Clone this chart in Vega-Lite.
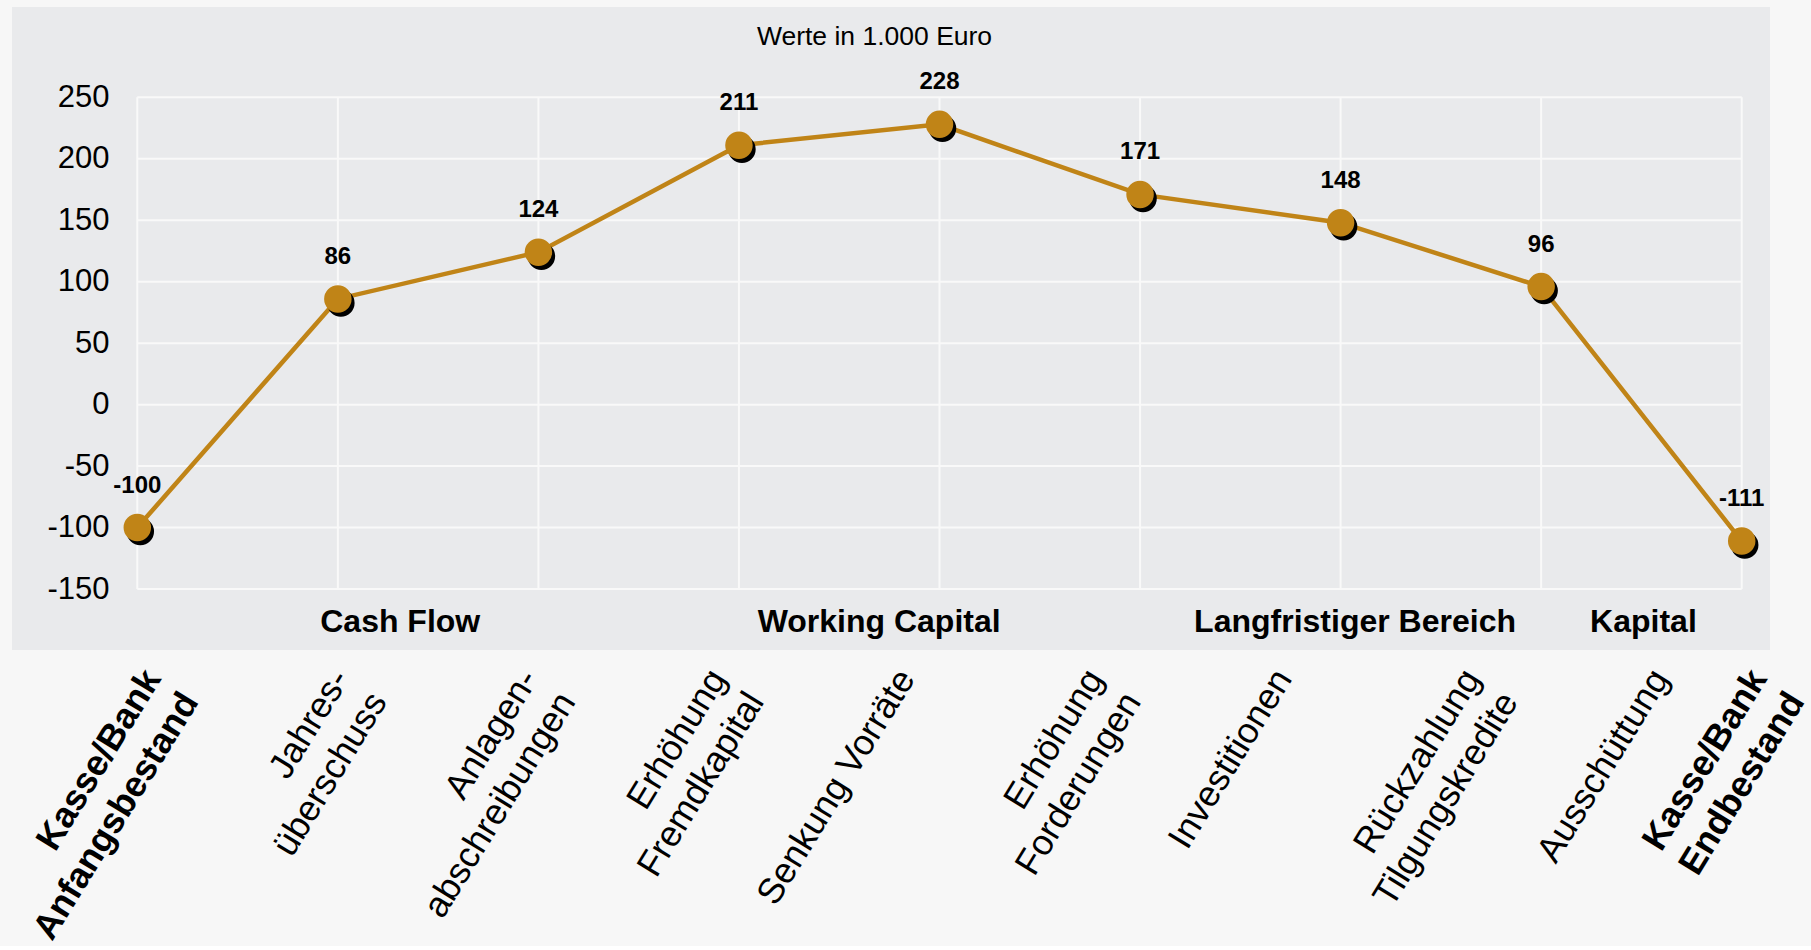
{
  "$schema": "https://vega.github.io/schema/vega-lite/v6.json",
  "background": "#f7f7f7",
  "padding": {"left": 12, "top": 7, "right": 0, "bottom": 0},
  "spacing": 0,
  "bounds": "flush",
  "config": {"view": {"stroke": null}, "font": "Liberation Sans"},
  "datasets": {
    "punkte": [
      {"i": 0, "v": -100},
      {"i": 1, "v": 86},
      {"i": 2, "v": 124},
      {"i": 3, "v": 211},
      {"i": 4, "v": 228},
      {"i": 5, "v": 171},
      {"i": 6, "v": 148},
      {"i": 7, "v": 96},
      {"i": 8, "v": -111}
    ],
    "ticks": [
      {"t": -150}, {"t": -100}, {"t": -50}, {"t": 0}, {"t": 50},
      {"t": 100}, {"t": 150}, {"t": 200}, {"t": 250}
    ],
    "gruppen": [
      {"g": "Cash Flow", "at": 1.311},
      {"g": "Working Capital", "at": 3.699},
      {"g": "Langfristiger Bereich", "at": 6.072},
      {"g": "Kapital", "at": 7.51}
    ],
    "kategorien": [
      {"n": 0, "z1": "Kasse/Bank", "z2": "Anfangsbestand"},
      {"n": 1, "z1": "Jahres-", "z2": "überschuss"},
      {"n": 2, "z1": "Anlagen-", "z2": "abschreibungen"},
      {"n": 3, "z1": "Erhöhung", "z2": "Fremdkapital"},
      {"n": 4, "z1": "Senkung Vorräte", "z2": ""},
      {"n": 5, "z1": "Erhöhung", "z2": "Forderungen"},
      {"n": 6, "z1": "Investitionen", "z2": ""},
      {"n": 7, "z1": "Rückzahlung", "z2": "Tilgungskredite"},
      {"n": 8, "z1": "Ausschüttung", "z2": ""},
      {"n": 9, "z1": "Kasse/Bank", "z2": "Endbestand"}
    ]
  },
  "vconcat": [
    {
      "width": 1758,
      "height": 643,
      "view": {"fill": "#e9eaec", "stroke": null},
      "title": {
        "text": "Werte in 1.000 Euro",
        "fontSize": 26.5,
        "fontWeight": "normal",
        "font": "Liberation Sans",
        "color": "#000000",
        "anchor": "middle",
        "frame": "group",
        "baseline": "alphabetic",
        "offset": -64,
        "dx": -16.5
      },
      "layer": [
        {
          "data": {"name": "ticks"},
          "mark": {"type": "rule", "color": "#f9f9f9", "strokeWidth": 2},
          "encoding": {
            "y": {"field": "t", "type": "quantitative", "scale": {"domain": [-199.6, 323.46], "nice": false, "zero": false},
                  "axis": {"values": [-150, -100, -50, 0, 50, 100, 150, 200, 250], "labelExpr": "'' + datum.value", "title": null, "domain": false, "ticks": false, "tickSize": 0, "grid": false, "labelFontSize": 31, "labelPadding": 0, "offset": -97, "labelColor": "#000000", "labelFont": "Liberation Sans"}},
            "x": {"datum": 0, "type": "quantitative", "scale": {"domain": [-0.6248, 8.1411], "nice": false, "zero": false}, "axis": null},
            "x2": {"datum": 8}
          }
        },
        {
          "data": {"name": "punkte"},
          "mark": {"type": "rule", "color": "#f9f9f9", "strokeWidth": 2},
          "encoding": {
            "x": {"field": "i", "type": "quantitative", "scale": {"domain": [-0.6248, 8.1411], "nice": false, "zero": false}, "axis": null},
            "y": {"datum": -150, "type": "quantitative", "scale": {"domain": [-199.6, 323.46], "nice": false, "zero": false}},
            "y2": {"datum": 250}
          }
        },
        {
          "data": {"name": "punkte"},
          "mark": {"type": "line", "color": "#c08417", "strokeWidth": 4.5},
          "encoding": {
            "x": {"field": "i", "type": "quantitative", "scale": {"domain": [-0.6248, 8.1411], "nice": false, "zero": false}, "axis": null},
            "y": {"field": "v", "type": "quantitative", "scale": {"domain": [-199.6, 323.46], "nice": false, "zero": false}}
          }
        },
        {
          "data": {"name": "punkte"},
          "mark": {"type": "point", "filled": true, "color": "#000000", "opacity": 1, "size": 755, "xOffset": 3, "yOffset": 4},
          "encoding": {
            "x": {"field": "i", "type": "quantitative", "scale": {"domain": [-0.6248, 8.1411], "nice": false, "zero": false}, "axis": null},
            "y": {"field": "v", "type": "quantitative", "scale": {"domain": [-199.6, 323.46], "nice": false, "zero": false}}
          }
        },
        {
          "data": {"name": "punkte"},
          "mark": {"type": "point", "filled": true, "color": "#c08417", "opacity": 1, "size": 755},
          "encoding": {
            "x": {"field": "i", "type": "quantitative", "scale": {"domain": [-0.6248, 8.1411], "nice": false, "zero": false}, "axis": null},
            "y": {"field": "v", "type": "quantitative", "scale": {"domain": [-199.6, 323.46], "nice": false, "zero": false}}
          }
        },
        {
          "data": {"name": "punkte"},
          "mark": {"type": "text", "fontSize": 24, "fontWeight": "bold", "font": "Liberation Sans", "color": "#000000", "baseline": "alphabetic", "align": "center", "dy": -35},
          "encoding": {
            "x": {"field": "i", "type": "quantitative", "scale": {"domain": [-0.6248, 8.1411], "nice": false, "zero": false}, "axis": null},
            "y": {"field": "v", "type": "quantitative", "scale": {"domain": [-199.6, 323.46], "nice": false, "zero": false}},
            "text": {"field": "v", "type": "nominal"}
          }
        },
        {
          "data": {"name": "gruppen"},
          "mark": {"type": "text", "fontSize": 32, "fontWeight": "bold", "font": "Liberation Sans", "color": "#000000", "baseline": "alphabetic", "align": "center"},
          "encoding": {
            "x": {"field": "at", "type": "quantitative", "scale": {"domain": [-0.6248, 8.1411], "nice": false, "zero": false}, "axis": null},
            "y": {"datum": -185, "type": "quantitative", "scale": {"domain": [-199.6, 323.46], "nice": false, "zero": false}},
            "text": {"field": "g"}
          }
        }
      ]
    },
    {
      "width": 1758,
      "height": 28,
      "data": {"name": "kategorien"},
      "encoding": {
        "x": {"field": "n", "type": "quantitative", "scale": {"domain": [-0.6684, 8.6579], "nice": false, "zero": false}, "axis": null}
      },
      "layer": [
        {
          "transform": [{"filter": "datum.n >= 1 && datum.n <= 8"}],
          "mark": {"type": "text", "angle": 301.5, "align": "right", "baseline": "top", "fontSize": 36, "font": "Liberation Sans", "color": "#000000"},
          "encoding": {"text": {"field": "z1"}}
        },
        {
          "transform": [{"filter": "datum.n >= 1 && datum.n <= 8 && datum.z2 != ''"}],
          "mark": {"type": "text", "angle": 301.5, "align": "right", "baseline": "top", "fontSize": 36, "dy": 44, "font": "Liberation Sans", "color": "#000000"},
          "encoding": {"text": {"field": "z2"}}
        },
        {
          "transform": [{"filter": "datum.n == 0"}],
          "mark": {"type": "text", "angle": 301.5, "align": "right", "baseline": "top", "fontSize": 36, "fontWeight": "bold", "font": "Liberation Sans", "color": "#000000"},
          "encoding": {"text": {"field": "z1"}}
        },
        {
          "transform": [{"filter": "datum.n == 0"}],
          "mark": {"type": "text", "angle": 301.5, "align": "right", "baseline": "top", "fontSize": 36, "dy": 44, "fontWeight": "bold", "font": "Liberation Sans", "color": "#000000"},
          "encoding": {"text": {"field": "z2"}}
        },
        {
          "transform": [{"filter": "datum.n == 9"}],
          "mark": {"type": "text", "angle": 301.5, "align": "right", "baseline": "top", "fontSize": 36, "fontWeight": "bold", "font": "Liberation Sans", "color": "#000000", "xOffset": -90.5},
          "encoding": {"text": {"field": "z1"}}
        },
        {
          "transform": [{"filter": "datum.n == 9"}],
          "mark": {"type": "text", "angle": 301.5, "align": "right", "baseline": "top", "fontSize": 36, "dy": 44, "fontWeight": "bold", "font": "Liberation Sans", "color": "#000000", "xOffset": -90.5},
          "encoding": {"text": {"field": "z2"}}
        }
      ]
    }
  ]
}
